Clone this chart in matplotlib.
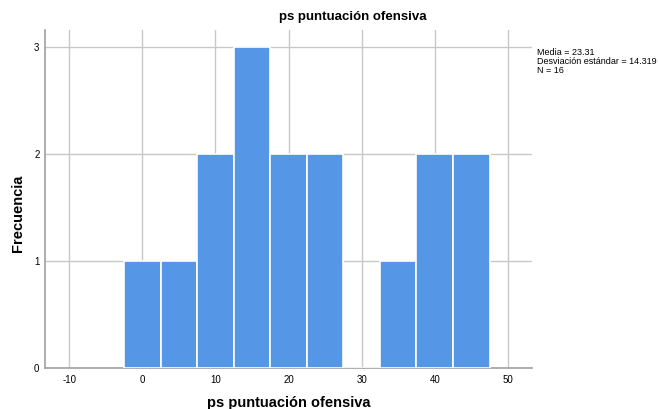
from matplotlib import pyplot as plt
import matplotlib
import numpy as np

matplotlib.rc("font", family=["Liberation Sans", "DejaVu Sans"])
matplotlib.rcParams["axes.unicode_minus"] = False

# bins of width 5 (centres) and frequencies
bin_centers = [0, 5, 10, 15, 20, 25, 30, 35, 40, 45]
frequencies = [1, 1, 2, 3, 2, 2, 0, 1, 2, 2]
x_ticks = [-10, 0, 10, 20, 30, 40, 50]
y_ticks = [0, 1, 2, 3]
stats_text = "Media = 23.31\nDesviación estándar = 14.319\nN = 16"

fig = plt.figure(figsize=(6.58, 4.09), dpi=100)
ax = fig.add_axes([45 / 658, 1 - 368 / 409, (532 - 45) / 658, (368 - 30) / 409])

edges = np.arange(-2.5, 47.6, 5)
ax.hist(bin_centers, bins=edges, weights=frequencies, color="#5596e6",
        edgecolor="white", linewidth=1.2, zorder=3)

ax.set_xlim(-13.3, 53.3)
ax.set_ylim(0, 3.16)
ax.set_xticks(x_ticks)
ax.set_yticks(y_ticks)
ax.tick_params(axis="x", length=0, labelsize=7, pad=5)
ax.tick_params(axis="y", length=0, labelsize=7, pad=4)
ax.grid(color="#c8c8c8", linewidth=1, zorder=0)
for s in ["top", "right"]:
    ax.spines[s].set_visible(False)
for s in ["left", "bottom"]:
    ax.spines[s].set_color("#a0a0a0")
    ax.spines[s].set_linewidth(1.2)

fig.text(289 / 658, 1 - 403 / 409, "ps puntuación ofensiva", fontsize=10.5,
         fontweight="bold", ha="center", va="center")
fig.text(18 / 658, 1 - 213 / 409, "Frecuencia", fontsize=10.5, fontweight="bold",
         ha="center", va="center", rotation=90)
fig.text(353 / 658, 1 - 17 / 409, "ps puntuación ofensiva", fontsize=9.5,
         fontweight="bold", ha="center", va="center")
fig.text(537 / 658, 1 - 48 / 409, stats_text, fontsize=6.5, ha="left", va="top",
         linespacing=1.0)

plt.savefig("out.png", dpi=100)
